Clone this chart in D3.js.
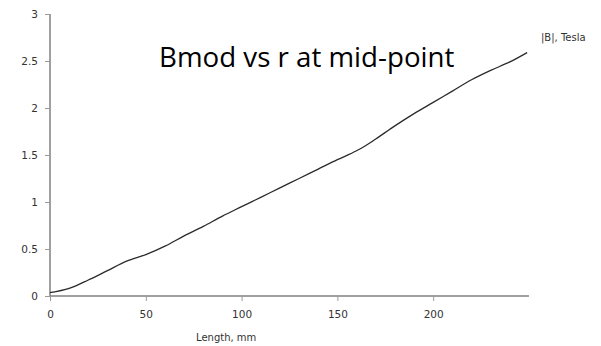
<!DOCTYPE html>
<html>
<head>
<meta charset="utf-8">
<script src="https://cdn.jsdelivr.net/npm/d3@7"></script>
<style>
  body { margin: 0; background: #fff; }
  .tick text { font-family: "DejaVu Sans", sans-serif; font-size: 10.5px; fill: #333; }
</style>
</head>
<body>
<svg id="chart" width="601" height="346"></svg>
<script>
const WIDTH = 601;
const HEIGHT = 346;

// Length, mm
const lengths = [0, 10, 20, 30, 40, 50, 60, 70, 80, 90, 100, 110, 120, 130, 140, 150, 160, 164, 170, 180, 190, 200, 210, 220, 230, 240, 249];
// |B|, Tesla
const bmod = [0.035, 0.08, 0.17, 0.27, 0.37, 0.44, 0.53, 0.64, 0.74, 0.85, 0.95, 1.05, 1.15, 1.25, 1.35, 1.45, 1.545, 1.59, 1.67, 1.81, 1.94, 2.06, 2.18, 2.3, 2.4, 2.49, 2.59];
const xTicks = [0, 50, 100, 150, 200];
const yTicks = [0, 0.5, 1, 1.5, 2, 2.5, 3];

const margin = { left: 50, right: 72, top: 14, bottom: 50 };

const svg = d3.select("#chart");

const x = d3.scaleLinear()
  .domain([0, 250])
  .range([margin.left, WIDTH - margin.right]);
const y = d3.scaleLinear()
  .domain([0, 3])
  .range([HEIGHT - margin.bottom, margin.top]);

const xAxis = svg.append("g")
  .attr("transform", "translate(0," + y(0) + ")")
  .call(d3.axisBottom(x).tickValues(xTicks).tickSize(5).tickPadding(10).tickFormat(d3.format("d")));
const yAxis = svg.append("g")
  .attr("transform", "translate(" + x(0) + ",0)")
  .call(d3.axisLeft(y).tickValues(yTicks).tickSize(5).tickPadding(7).tickFormat(d => d));

[xAxis, yAxis].forEach(a => {
  a.select(".domain").attr("stroke", "#808080").attr("stroke-width", 1.5);
  a.selectAll(".tick line").attr("stroke", "#999");
});
yAxis.select(".domain").attr("d", "M0," + y(3) + "V" + y(0));
xAxis.select(".domain").attr("d", "M" + x(0) + ",0H" + x(250));

const line = d3.line()
  .x((d, i) => x(lengths[i]))
  .y(d => y(d))
  .curve(d3.curveMonotoneX);

svg.append("path")
  .datum(bmod)
  .attr("fill", "none")
  .attr("stroke", "#2a2a2a")
  .attr("stroke-width", 1.3)
  .attr("d", line);

svg.append("text")
  .attr("x", 159)
  .attr("y", 67)
  .attr("font-family", "'Open Sans', 'Noto Sans', sans-serif")
  .attr("font-size", 27.7)
  .attr("fill", "#000")
  .text("Bmod vs r at mid-point");

svg.append("text")
  .attr("x", 541)
  .attr("y", 41)
  .attr("font-family", "'DejaVu Sans', sans-serif")
  .attr("font-size", 10)
  .attr("fill", "#333")
  .text("|B|, Tesla");

svg.append("text")
  .attr("x", 196)
  .attr("y", 341)
  .attr("font-family", "'DejaVu Sans', sans-serif")
  .attr("font-size", 10)
  .attr("fill", "#333")
  .text("Length, mm");
</script>
</body>
</html>
